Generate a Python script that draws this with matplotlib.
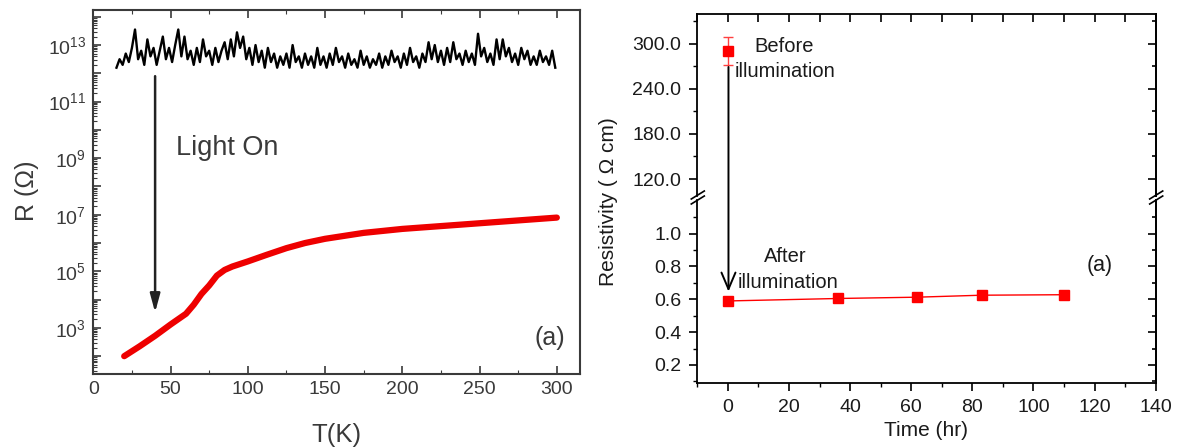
import numpy as np
import matplotlib.pyplot as plt
from matplotlib.lines import Line2D
from matplotlib.patches import ConnectionPatch
from matplotlib.ticker import (LogLocator, MultipleLocator, FixedLocator,
                               FuncFormatter, FormatStrFormatter, NullFormatter)

plt.rcParams['font.family'] = ['Liberation Sans', 'DejaVu Sans']
plt.rcParams['mathtext.fontset'] = 'custom'
plt.rcParams['mathtext.rm'] = 'Liberation Sans'
plt.rcParams['mathtext.it'] = 'Liberation Sans:italic'
plt.rcParams['mathtext.bf'] = 'Liberation Sans:bold'

# R(T) in the dark, log10(R) on a 2 K grid (15 K ... 299 K)
T_dark = np.arange(15, 300, 2)
logR_dark = [
    12.2, 12.5, 12.3, 12.7, 12.4, 12.9, 13.55, 12.5, 12.8, 12.3,
    13.2, 12.6, 12.9, 12.3, 12.8, 13.3, 12.5, 12.9, 12.4, 13.0,
    13.55, 12.6, 13.3, 12.5, 12.8, 12.3, 12.9, 12.4, 13.2, 12.6,
    12.8, 12.3, 12.9, 12.4, 12.8, 13.1, 12.5, 13.2, 12.6, 13.45,
    12.9, 13.3, 12.5, 12.9, 12.3, 13.0, 12.4, 12.8, 12.2, 12.9,
    12.4, 12.7, 12.2, 12.6, 12.3, 12.7, 12.2, 13.0, 12.4, 12.6,
    12.2, 12.7, 12.3, 12.6, 12.2, 12.9, 12.3, 12.6, 12.2, 12.7,
    12.3, 12.9, 12.4, 12.6, 12.2, 12.7, 12.3, 12.5, 12.2, 12.8,
    12.3, 12.6, 12.2, 12.5, 12.3, 12.7, 12.2, 12.6, 12.3, 12.8,
    12.4, 12.6, 12.2, 12.7, 12.3, 12.9, 12.4, 12.6, 12.2, 12.7,
    12.4, 13.1, 12.5, 13.0, 12.4, 12.8, 12.3, 12.9, 12.4, 13.1,
    12.5, 12.7, 12.3, 12.8, 12.4, 12.7, 12.3, 13.4, 12.6, 12.9,
    12.4, 12.7, 12.3, 13.2, 12.5, 13.2, 12.6, 12.9, 12.4, 12.7,
    12.3, 12.9, 12.5, 12.8, 12.3, 12.6, 12.3, 12.8, 12.4, 12.6,
    12.3, 12.8, 12.2,
]

# R(T) with the light on
T_light = [20, 30, 40, 50, 60, 65, 70, 75, 80, 85, 90, 100, 112, 125,
           137, 150, 175, 200, 225, 250, 275, 300]
logR_light = [2.0, 2.35, 2.72, 3.12, 3.5, 3.82, 4.2, 4.5, 4.85, 5.05, 5.17,
              5.35, 5.58, 5.82, 6.0, 6.15, 6.36, 6.5, 6.6, 6.7, 6.8, 6.9]

# resistivity vs time
t_before = [0]
rho_before = [290.5]
rho_before_err = [18.5]
t_after = [0, 36, 62, 83, 110]
rho_after = [0.59, 0.605, 0.613, 0.625, 0.628]

W, H = 1180, 448
fig = plt.figure(figsize=(W / 100, H / 100), dpi=100)
gray = '#3a3a3a'
dark = '#1a1a1a'

# ---------------- left: R vs T ----------------
ax1 = fig.add_axes([93.3 / W, 1 - 374 / H, (580 - 93.3) / W, (374 - 10) / H])
ax1.plot(T_dark, 10.0 ** np.array(logR_dark), color='black', lw=1.7)
ax1.plot(T_light, 10.0 ** np.array(logR_light), color='#ee0000', lw=4.5,
         solid_capstyle='round')
ax1.set_yscale('log')
ax1.set_xlim(0, 315)
ax1.set_ylim(10 ** 1.37, 10 ** 14.24)

ax1.xaxis.set_major_locator(MultipleLocator(50))
ax1.xaxis.set_minor_locator(MultipleLocator(25))
ax1.yaxis.set_major_locator(LogLocator(base=10, numticks=30))
ax1.yaxis.set_minor_locator(LogLocator(base=10, subs=np.arange(2, 10), numticks=30))
ax1.yaxis.set_minor_formatter(NullFormatter())


def odd_decades(v, pos):
    e = int(round(np.log10(v)))
    return r'$\mathregular{10^{%d}}$' % e if e % 2 else ''


ax1.yaxis.set_major_formatter(FuncFormatter(odd_decades))
ax1.tick_params(which='both', direction='in', top=True, right=False,
                color=gray, labelcolor=gray)
ax1.tick_params(which='major', length=6, width=1.2, labelsize=14, pad=5)
ax1.tick_params(which='minor', length=3, width=0.8)
for s in ax1.spines.values():
    s.set_color(gray)
    s.set_linewidth(1.5)

ax1.annotate('', xy=(40, 10 ** 3.55), xytext=(40, 10 ** 11.9),
             arrowprops=dict(arrowstyle='-|>,head_length=1.1,head_width=0.3',
                             color='#222222', lw=1.8, mutation_scale=10,
                             shrinkA=0, shrinkB=0))
ax1.text(53.5, 10 ** 9.11, 'Light On', fontsize=19.5, color=gray,
         ha='left', va='baseline')
ax1.text(0.938, 0.08, '(a)', transform=ax1.transAxes, fontsize=18,
         color=gray, ha='center', va='baseline')

fig.text(336.7 / W, 1 - 435 / H, 'T(K)', fontsize=18.5, color=gray,
         ha='center', va='center')
fig.text(27 / W, 1 - 191 / H, 'R (Ω)', fontsize=18, color=gray,
         rotation=90, ha='center', va='center')

# ---------------- right: resistivity vs time, broken y axis ----------------
L, R = 697.3, 1155.7
axt = fig.add_axes([L / W, 1 - 196 / H, (R - L) / W, 182 / H])
axb = fig.add_axes([L / W, 1 - 382.7 / H, (R - L) / W, 182.7 / H])

axt.errorbar(t_before, rho_before, yerr=rho_before_err, fmt='s', color='red',
             ecolor='#ff4040', ms=7, capsize=3.5, elinewidth=1, capthick=1)
axb.plot(t_after, rho_after, '-s', color='red', ms=7, lw=1)

for ax in (axt, axb):
    ax.set_xlim(-10, 140)
    for s in ax.spines.values():
        s.set_linewidth(1.3)
        s.set_color('black')
axt.set_ylim(97.4, 339.4)
axb.set_ylim(0.092, 1.205)
axt.spines['bottom'].set_visible(False)
axb.spines['top'].set_visible(False)

# top part
axt.xaxis.set_major_locator(MultipleLocator(10))
axt.tick_params(axis='x', direction='in', bottom=False, top=True,
                labelbottom=False, length=4.5, width=1.2)
axt.yaxis.set_major_locator(MultipleLocator(60))
axt.yaxis.set_minor_locator(MultipleLocator(30))
axt.yaxis.set_major_formatter(FormatStrFormatter('%.1f'))

# bottom part
axb.xaxis.set_major_locator(MultipleLocator(20))
axb.xaxis.set_minor_locator(MultipleLocator(10))
axb.tick_params(axis='x', which='both', direction='out', top=False)
axb.yaxis.set_major_locator(FixedLocator([0.2, 0.4, 0.6, 0.8, 1.0]))
axb.yaxis.set_minor_locator(FixedLocator([0.1, 0.3, 0.5, 0.7, 0.9, 1.1]))
axb.yaxis.set_major_formatter(FormatStrFormatter('%.1f'))

for ax in (axt, axb):
    ax.tick_params(axis='y', which='both', direction='out', right=False)
    ax.tick_params(which='major', length=5.5, width=1.2, labelsize=14,
                   pad=6, labelcolor=dark)
    ax.tick_params(which='minor', length=3, width=1.0)
    sec = ax.secondary_yaxis('right')
    sec.yaxis.set_major_locator(ax.yaxis.get_major_locator())
    sec.yaxis.set_minor_locator(ax.yaxis.get_minor_locator())
    sec.tick_params(which='both', direction='in', labelright=False, width=1.2)
    sec.tick_params(which='major', length=5.5)
    sec.tick_params(which='minor', length=3)
    sec.spines['right'].set_linewidth(1.3)

# break marks on both spines
for x0 in (L, R):
    for dy in (0, 5):
        fig.add_artist(Line2D([(x0 - 6) / W, (x0 + 7) / W],
                              [1 - (199 + dy) / H, 1 - (191 + dy) / H],
                              color='black', lw=1.2))

# arrow from "before" down to "after"
con = ConnectionPatch(xyA=(0.2, 269), coordsA=axt.transData,
                      xyB=(0.2, 0.647), coordsB=axb.transData,
                      arrowstyle='->,head_length=0.85,head_width=0.36',
                      mutation_scale=14, lw=1.4, color='black')
fig.add_artist(con)

axt.text(18.3, 288.6, 'Before', fontsize=14.5, color=dark,
         ha='center', va='baseline')
axt.text(18.7, 255.4, 'illumination', fontsize=14.5, color=dark,
         ha='center', va='baseline')
axb.text(18.9, 0.830, 'After', fontsize=14.5, color=dark,
         ha='center', va='baseline')
axb.text(19.8, 0.668, 'illumination', fontsize=14.5, color=dark,
         ha='center', va='baseline')
axb.text(121.6, 0.775, '(a)', fontsize=15.5, color=dark,
         ha='center', va='baseline')

fig.text(926.5 / W, 1 - 430 / H, 'Time (hr)', fontsize=15, color=dark,
         ha='center', va='center')
fig.text(608 / W, 1 - 201.7 / H, 'Resistivity ( Ω cm)', fontsize=15,
         color=dark, rotation=90, ha='center', va='center')

fig.savefig('out.png', dpi=100)
